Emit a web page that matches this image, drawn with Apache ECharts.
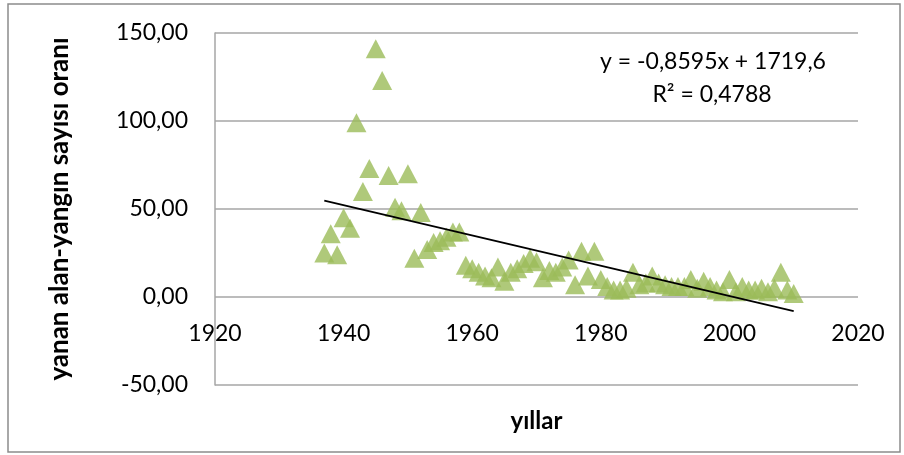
<!DOCTYPE html>
<html>
<head>
<meta charset="utf-8">
<script src="https://cdn.jsdelivr.net/npm/echarts@6/dist/echarts.min.js"></script>
<style>
html,body{margin:0;padding:0;background:#fff;}
#_chart{width:904px;height:455px;}
</style>
</head>
<body>
<div id="_chart"></div>
<script>
var years = [1937,1938,1939,1940,1941,1942,1943,1944,1945,1946,1947,1948,1949,1950,1951,1952,1953,1954,1955,1956,
	1957,1958,1959,1960,1961,1962,1963,1964,1965,1966,1967,1968,1969,1970,1971,1972,1973,1974,1975,1976,
	1977,1978,1979,1980,1981,1982,1983,1984,1985,1986,1987,1988,1989,1990,1991,1992,1993,1994,1995,1996,
	1997,1998,1999,2000,2001,2002,2003,2004,2005,2006,2007,2008,2009,2010];
var ratios = [25,36,24,45,39,99,60,73,141,123,69,51,49,70,22,48,27,31,32,34,
	37,37,18,16,14,12,11,17,9,14,16,19,22,20,11,15,14,17,21,7,
	26,12,26,10,6,4,4,5,14,7,8,12,8,7,6,6,6,10,5,9,
	6,4,3,10,3,6,4,4,5,3,5,14,4,2];
// trend line ends, y = -0,8595x + 1719,6
var trendYears = [1937, 2010];
var trendValues = [54.75, -7.99];
var yTicks = [-50, 0, 50, 100, 150];
var xTicks = [1920, 1940, 1960, 1980, 2000, 2020];

function renderChart(){
	var _chart = echarts.init(document.getElementById('_chart'));
	var pts = years.map(function(y, i){ return [y, ratios[i]]; });
	var trend = trendYears.map(function(y, i){ return [y, trendValues[i]]; });
	var font = 'Lato, "Open Sans", sans-serif';
	var _chart_option = {
		animation: false,
		backgroundColor: '#fff',
		textStyle: {fontFamily: font},
		grid: {left: 215, right: 46, top: 33, bottom: 70, containLabel: false, outerBoundsMode: 'none'},
		graphic: [
			{type: 'rect', shape: {x: 8, y: 4, width: 892, height: 448},
				style: {fill: 'none', stroke: '#8c8c8c', lineWidth: 1.5}, silent: true},
			{type: 'text', x: 713, y: 62, silent: true,
				style: {text: 'y = -0,8595x + 1719,6', fill: '#000', font: '23px ' + font, align: 'center', verticalAlign: 'middle'}},
			{type: 'text', x: 712, y: 95, silent: true,
				style: {text: 'R² = 0,4788', fill: '#000', font: '23px ' + font, align: 'center', verticalAlign: 'middle'}}
		],
		xAxis: {
			type: 'value',
			min: xTicks[0], max: xTicks[xTicks.length - 1], interval: 20,
			name: 'yıllar', nameLocation: 'middle', nameGap: 24,
			nameTextStyle: {fontSize: 24, fontWeight: 'bold', color: '#000', fontFamily: font},
			axisLine: {show: false, onZero: false},
			axisTick: {show: false},
			splitLine: {show: false},
			// labels sit just under the zero line, as in the reference
			axisLabel: {fontSize: 23, color: '#000', margin: -63, fontFamily: font,
				formatter: function(v){ return String(v); }}
		},
		yAxis: {
			type: 'value',
			min: yTicks[0], max: yTicks[yTicks.length - 1], interval: 50,
			name: 'yanan alan-yangın sayısı oranı', nameLocation: 'middle', nameGap: 142,
			nameTextStyle: {fontSize: 26, fontWeight: 'bold', color: '#000', fontFamily: font},
			axisLine: {show: true, lineStyle: {color: '#a6a6a6', width: 1.5}},
			axisTick: {show: false},
			splitLine: {show: true, lineStyle: {color: '#a6a6a6', width: 1.5}},
			axisLabel: {fontSize: 23, color: '#000', margin: 27, fontFamily: font,
				formatter: function(v){ return v.toFixed(2).replace('.', ','); }}
		},
		series: [
			{
				type: 'scatter',
				symbol: 'triangle',
				symbolSize: [20, 19],
				itemStyle: {color: '#9bbb59'},
				data: pts
			},
			{
				type: 'line',
				symbol: 'none',
				lineStyle: {color: '#000', width: 1.8},
				data: trend,
				z: 5
			}
		]
	};
	_chart.setOption(_chart_option);
}
renderChart();
</script>
</body>
</html>
